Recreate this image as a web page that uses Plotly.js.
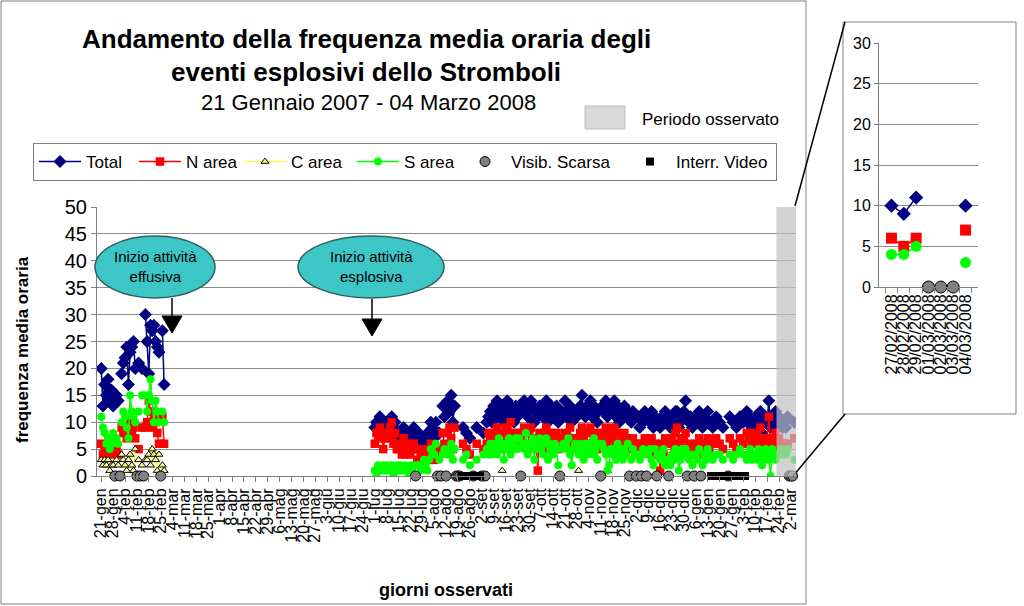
<!DOCTYPE html>
<html>
<head>
<meta charset="utf-8">
<script src="https://cdn.plot.ly/plotly-3.0.1.min.js"></script>
<style>
  html, body { margin: 0; padding: 0; background: #fff; }
  #chart { width: 1024px; height: 606px; }
</style>
</head>
<body>
<div id="chart"></div>
<script>
// tick labels, one every 7 days from 21-gen-2007
const tickLabels = ['21-gen','28-gen','4-feb','11-feb','18-feb','25-feb','4-mar','11-mar','18-mar','25-mar',
  '1-apr','8-apr','15-apr','22-apr','29-apr','6-mag','13-mag','20-mag','27-mag','3-giu','10-giu','17-giu',
  '24-giu','1-lug','8-lug','15-lug','22-lug','29-lug','5-ago','12-ago','19-ago','26-ago','2-set','9-set',
  '16-set','23-set','30-set','7-ott','14-ott','21-ott','28-ott','4-nov','11-nov','18-nov','25-nov','2-dic',
  '9-dic','16-dic','23-dic','30-dic','6-gen','13-gen','20-gen','27-gen','3-feb','10-feb','17-feb','24-feb','2-mar'];

// first period: daily from 21 Jan 2007
const startEarly = '2007-01-21';
const totalEarly = [20,13,17,15,18,14,16,13,null,15,14,null,19,21,22,24,17,23,24,25,20,null,21,null,20,null,30,25,19,28,27,28,25,24,23,null,27,17];
const nEarly     = [6,4,5,4,5,6,4,5,null,5,4,null,9,8,9,7,10,9,8,9,7,null,5,null,9,null,9,10,14,12,9,11,10,8,6,null,11,6];
const cEarly     = [3,2,3,2,3,1,2,2,null,3,2,null,4,3,2,1,3,4,2,1,5,null,3,null,2,null,3,3,4,2,5,4,3,1,4,null,2,1];
const sEarly     = [11,9,8,6,7,5,6,8,null,7,6,null,10,12,11,9,7,15,12,11,10,null,12,null,15,null,15,12,15,18,14,10,14,12,10,null,12,10];

// second period: daily from 1 Jul 2007 (one row per week)
const startLate = '2007-07-01';
const totalLate = [
  9,10,9,11,10,8,10,  10,9,8,11,9,10,7,  7,8,6,9,7,6,8,  8,7,9,null,6,8,7,
  6,5,7,8,6,10,9,  7,10,null,8,null,13,11,  null,14,12,15,10,13,null,  null,null,null,9,null,8,null,
  7,null,null,null,9,null,null,  null,8,null,10,11,12,10,  13,12,14,11,13,12,10,  12,14,11,13,12,10,13,
  11,13,null,12,14,13,11,  12,14,13,10,12,11,13,  13,11,12,14,10,12,13,  12,11,13,10,null,12,11,
  14,11,12,13,10,11,12,  11,12,13,15,12,11,13,  12,14,11,13,12,10,12,  null,13,12,14,11,12,13,
  12,14,11,13,10,12,11,  13,11,12,null,10,12,11,  null,11,9,null,10,12,null,  11,10,12,9,11,null,10,
  9,11,10,12,11,null,9,  11,10,12,12,9,10,11,  12,14,null,10,11,9,null,  11,10,12,null,9,11,10,
  12,10,null,9,null,11,null,  10,null,9,null,null,null,11,  null,10,null,9,null,11,null,  10,null,12,10,11,9,10,
  11,9,10,12,8,10,11,  10,14,9,11,10,12,9,  11,10,9,10,9,11,null,  null,null,10];
const nLate = [
  6,8,7,9,8,5,7,  8,7,9,10,6,8,5,  5,6,4,7,4,5,6,  4,5,6,null,3,5,4,
  3,2,4,5,3,6,5,  3,4,null,5,null,8,6,  null,8,9,7,5,9,null,  null,null,null,6,null,5,null,
  4,null,null,null,6,null,null,  null,5,null,6,8,7,5,  8,7,9,6,8,6,5,  9,7,8,10,6,7,8,
  6,8,null,7,9,8,5,  8,9,7,6,6,1,8,  7,6,8,9,5,7,8,  6,7,8,5,null,7,6,
  8,6,7,9,5,7,6,  7,6,8,9,7,5,8,  8,9,6,7,8,5,7,  null,8,7,9,6,7,8,
  7,9,6,8,5,7,6,  8,6,7,null,5,7,6,  null,6,5,null,6,7,null,  6,5,7,4,6,null,5,
  1,6,4,7,6,null,3,  7,6,8,9,5,6,7,  7,8,null,6,5,4,null,  6,5,7,null,4,6,5,
  7,5,null,6,null,7,null,  6,null,5,null,null,null,7,  null,6,null,5,null,7,null,  6,null,8,7,8,6,7,
  8,6,7,9,5,6,7,  7,11,6,7,6,8,5,  7,6,6,6,5,6,null,  null,null,7];
const sLate = [
  1,0,2,1,1,2,1,  2,1,1,2,0,1,2,  1,2,1,1,2,1,0,  2,1,2,null,2,2,1,
  2,3,2,1,3,5,4,  4,6,null,3,null,4,5,  null,4,5,6,3,5,null,  null,null,null,3,null,4,null,
  2,null,null,null,3,null,null,  null,4,null,5,4,6,4,  5,6,4,7,5,6,3,  6,5,7,4,6,5,7,
  5,7,null,6,5,8,4,  6,5,7,3,6,5,7,  5,4,6,7,3,6,5,  4,6,5,2,null,5,6,
  6,5,7,4,2,5,6,  5,4,6,5,3,6,4,  6,5,4,7,5,3,6,  null,6,5,4,1,2,5,
  4,5,3,6,4,5,3,  5,4,6,null,3,5,4,  null,4,3,null,5,4,null,  4,5,3,2,5,null,4,
  3,4,5,2,3,null,2,  4,3,5,4,1,3,5,  4,5,null,3,4,2,null,  4,3,5,null,2,4,3,
  5,4,null,3,null,4,null,  4,null,3,null,null,null,4,  null,3,null,4,null,5,null,  4,null,3,4,5,3,4,
  4,3,5,4,2,3,5,  4,3,0,5,4,3,4,  4,5,4,4,4,5,null,  null,null,3];
const cLateDates = ['2007-09-14', '2007-10-29', '2007-11-15'];
const cLateVals = [1, 1, 1];

// days with poor visibility / video interruption (plotted on 0)
const visScarsaDates = ['2007-01-29','2007-02-01','2007-02-11','2007-02-13','2007-02-15','2007-02-25',
  '2007-07-25','2007-08-07','2007-08-09','2007-08-12','2007-08-18','2007-08-19','2007-08-20','2007-08-28',
  '2007-09-02','2007-09-04','2007-09-25','2007-10-18','2007-11-11','2007-11-28','2007-12-02','2007-12-05',
  '2007-12-08','2007-12-14','2007-12-21','2008-01-01','2008-01-05','2008-01-09','2008-01-25',
  '2008-03-01','2008-03-02','2008-03-03'];
const interrVideoDates = ['2007-08-21','2007-08-23','2007-08-25','2007-08-27','2007-08-29','2007-08-31',
  '2007-09-01','2008-01-15','2008-01-17','2008-01-19','2008-01-21','2008-01-23','2008-01-24','2008-01-27',
  '2008-01-29','2008-01-31','2008-02-02','2008-02-04'];

// inset: last observed week
const insetDays = ['27/02/2008','28/02/2008','29/02/2008','01/03/2008','02/03/2008','03/03/2008','04/03/2008'];
const insetTotal = [10, 9, 11, null, null, null, 10];
const insetN = [6, 5, 6, null, null, null, 7];
const insetS = [4, 4, 5, null, null, null, 3];
const insetVis = [null, null, null, 0, 0, 0, null];

// helpers
const W = 1024, H = 606;
const px = (x) => x / W;
const py = (y) => 1 - y / H;

function addDays(start, n) {
  const d = new Date(start + 'T00:00:00Z');
  d.setUTCDate(d.getUTCDate() + n);
  return d.toISOString().slice(0, 10);
}

const earlyDates = totalEarly.map((_, i) => addDays(startEarly, i));
const lateDates = totalLate.map((_, i) => addDays(startLate, i));
const mainX = earlyDates.concat(['2007-04-15'], lateDates);
const joinY = (a, b) => a.concat([null], b);
const tickVals = tickLabels.map((_, i) => addDays(startEarly, 7 * i));

const FONT = 'Liberation Sans, Arial, sans-serif';

const traces = [
  {
    x: mainX, y: joinY(totalEarly, totalLate), name: 'Total',
    type: 'scatter', mode: 'lines+markers', legendwidth: 43,
    line: { color: '#000080', width: 1.5 },
    marker: { symbol: 'diamond', size: 10, color: '#000080' }
  },
  {
    x: mainX, y: joinY(nEarly, nLate), name: 'N area',
    type: 'scatter', mode: 'lines+markers', legendwidth: 48,
    line: { color: '#FF0000', width: 1.5 },
    marker: { symbol: 'square', size: 8.5, color: '#FF0000' }
  },
  {
    x: earlyDates, y: cEarly, name: 'C area',
    type: 'scatter', mode: 'lines+markers', legendwidth: 56,
    line: { color: '#FFFF00', width: 1 },
    marker: { symbol: 'triangle-up', size: 7, color: '#FFFF99', line: { color: '#000', width: 1 } }
  },
  {
    x: cLateDates, y: cLateVals, name: 'C area', showlegend: false,
    type: 'scatter', mode: 'markers',
    marker: { symbol: 'triangle-up', size: 7, color: '#FFFF99', line: { color: '#000', width: 1 } }
  },
  {
    x: mainX, y: joinY(sEarly, sLate), name: 'S area',
    type: 'scatter', mode: 'lines+markers', legendwidth: 50,
    line: { color: '#00FF00', width: 1.5 },
    marker: { symbol: 'circle', size: 8, color: '#00FF00' }
  },
  {
    x: visScarsaDates, y: visScarsaDates.map(() => 0), name: 'Visib. Scarsa',
    type: 'scatter', mode: 'markers', legendwidth: 108, cliponaxis: false,
    marker: { symbol: 'circle', size: 10, color: '#808080', line: { color: '#000', width: 1 } }
  },
  {
    x: interrVideoDates, y: interrVideoDates.map(() => 0), name: 'Interr. Video',
    type: 'scatter', mode: 'markers', legendwidth: 95, cliponaxis: false,
    marker: { symbol: 'square', size: 8, color: '#000000' }
  },
  // inset
  {
    x: insetDays, y: insetTotal, xaxis: 'x2', yaxis: 'y2', showlegend: false,
    type: 'scatter', mode: 'lines+markers',
    line: { color: '#000080', width: 1.5 },
    marker: { symbol: 'diamond', size: 11, color: '#000080' }
  },
  {
    x: insetDays, y: insetN, xaxis: 'x2', yaxis: 'y2', showlegend: false,
    type: 'scatter', mode: 'lines+markers',
    line: { color: '#FF0000', width: 1.5 },
    marker: { symbol: 'square', size: 11, color: '#FF0000' }
  },
  {
    x: insetDays, y: insetS, xaxis: 'x2', yaxis: 'y2', showlegend: false,
    type: 'scatter', mode: 'lines+markers',
    line: { color: '#00FF00', width: 1.5 },
    marker: { symbol: 'circle', size: 11, color: '#00FF00' }
  },
  {
    x: insetDays, y: insetVis, xaxis: 'x2', yaxis: 'y2', showlegend: false,
    type: 'scatter', mode: 'markers', cliponaxis: false,
    marker: { symbol: 'circle', size: 12, color: '#808080', line: { color: '#000', width: 1 } }
  }
];

function rectPx(x0, y0, x1, y1, extra) {
  return Object.assign({ type: 'rect', xref: 'paper', yref: 'paper',
    x0: px(x0), x1: px(x1), y0: py(y1), y1: py(y0) }, extra);
}
function linePx(x0, y0, x1, y1, color) {
  return { type: 'line', xref: 'paper', yref: 'paper', x0: px(x0), y0: py(y0), x1: px(x1), y1: py(y1),
    line: { color: color, width: 1.5 } };
}
function triPx(cx, top, bottom, half) {
  return { type: 'path', xref: 'paper', yref: 'paper',
    path: `M ${px(cx - half)} ${py(top)} L ${px(cx + half)} ${py(top)} L ${px(cx)} ${py(bottom)} Z`,
    fillcolor: '#000', line: { color: '#000', width: 1 } };
}
function ellipsePx(x0, y0, x1, y1) {
  return { type: 'circle', xref: 'paper', yref: 'paper', x0: px(x0), x1: px(x1), y0: py(y1), y1: py(y0),
    fillcolor: '#3CC6C6', line: { color: '#2F5F5F', width: 1.5 } };
}

const shapes = [
  rectPx(1, 1, 806, 604, { line: { color: '#808080', width: 1 } }),
  rectPx(843, 22, 1016, 414, { line: { color: '#808080', width: 1 } }),
  linePx(795, 206, 845, 22, '#000'),
  linePx(793, 476, 845, 414, '#000'),
  { type: 'rect', xref: 'x', yref: 'y', x0: '2008-02-22 12:00', x1: '2008-03-05', y0: 0, y1: 50,
    fillcolor: 'rgba(192,192,192,0.7)', line: { width: 0 }, layer: 'above' },
  rectPx(585, 106, 625, 129, { fillcolor: '#D9D9D9', line: { color: '#BFBFBF', width: 1 } }),
  ellipsePx(95, 236, 215, 298),
  ellipsePx(298, 236, 444, 298),
  linePx(172, 298, 172, 318, '#000'),
  triPx(172, 316, 333, 10),
  linePx(372, 299, 372, 320, '#000'),
  triPx(372, 319, 336, 10)
];

function textPx(x, y, text, size, extra) {
  return Object.assign({ xref: 'paper', yref: 'paper', x: px(x), y: py(y), text: text, showarrow: false,
    xanchor: 'center', yanchor: 'middle',
    font: { family: FONT, size: size, color: '#000' } }, extra);
}

const annotations = [
  textPx(366, 39, '<b>Andamento della frequenza media oraria degli</b>', 26),
  textPx(366, 72, '<b>eventi esplosivi dello Stromboli</b>', 26),
  textPx(368, 102, '21 Gennaio 2007 - 04 Marzo 2008', 22),
  textPx(640, 119, 'Periodo osservato', 17, { xanchor: 'left' }),
  textPx(155, 267, 'Inizio attività<br>effusiva', 15),
  textPx(371, 267, 'Inizio attività<br>esplosiva', 15),
  textPx(22, 350, '<b>frequenza media oraria</b>', 17, { textangle: -90 }),
  textPx(446, 590, '<b>giorni osservati</b>', 18)
];

const layout = {
  width: W, height: H,
  margin: { l: 0, r: 0, t: 0, b: 0 },
  paper_bgcolor: '#fff', plot_bgcolor: '#fff',
  font: { family: FONT, color: '#000' },
  showlegend: true,
  legend: {
    orientation: 'h', x: px(33), y: py(143), xanchor: 'left', yanchor: 'top',
    bordercolor: '#808080', borderwidth: 1, bgcolor: '#fff',
    font: { family: FONT, size: 17, color: '#000' }, itemwidth: 42, traceorder: 'normal'
  },
  xaxis: {
    type: 'date', domain: [px(97), px(796)], anchor: 'y',
    range: ['2007-01-18 12:00', '2008-03-05'],
    tickmode: 'array', tickvals: tickVals, ticktext: tickLabels, tickangle: -90,
    tickfont: { family: FONT, size: 16, color: '#000' },
    ticks: 'outside', ticklen: 5, tickcolor: '#808080',
    showline: true, linecolor: '#808080', showgrid: false, zeroline: false
  },
  yaxis: {
    domain: [py(476), py(207)], anchor: 'x', range: [0, 50], dtick: 5, tick0: 0,
    tickfont: { family: FONT, size: 20, color: '#000' },
    ticks: 'outside', ticklen: 5, tickcolor: '#808080',
    showline: true, linecolor: '#808080', gridcolor: '#8C8C8C', zeroline: false
  },
  xaxis2: {
    type: 'category', domain: [px(879), px(978)], anchor: 'y2', tickangle: -90,
    tickmode: 'linear', dtick: 1,
    tickfont: { family: FONT, size: 16, color: '#000' },
    ticks: 'outside', tickson: 'boundaries', ticklen: 5, tickcolor: '#808080',
    showline: true, linecolor: '#808080', showgrid: false, zeroline: false
  },
  yaxis2: {
    domain: [py(287), py(43)], anchor: 'x2', range: [0, 30], dtick: 5, tick0: 0,
    tickfont: { family: FONT, size: 16, color: '#000' },
    ticks: 'outside', ticklen: 4, tickcolor: '#808080',
    showline: true, linecolor: '#808080', gridcolor: '#8C8C8C', zeroline: false
  },
  shapes: shapes,
  annotations: annotations
};

Plotly.newPlot('chart', traces, layout, { staticPlot: true, displayModeBar: false });
</script>
</body>
</html>
